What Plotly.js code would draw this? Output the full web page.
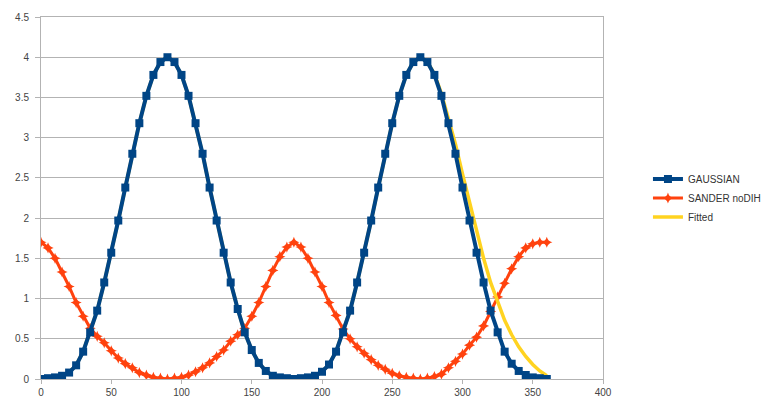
<!DOCTYPE html>
<html>
<head>
<meta charset="utf-8">
<script src="https://cdn.plot.ly/plotly-3.0.1.min.js"></script>
<style>html,body{margin:0;padding:0;background:#fff;}#chart{width:783px;height:400px;}</style>
</head>
<body>
<div id="chart"></div>
<script>
// Angle (x) values, every 5 units from 0 to 360
const angles = [0,5,10,15,20,25,30,35,40,45,50,55,60,65,70,75,80,85,90,95,100,105,110,115,120,125,130,135,140,145,150,155,160,165,170,175,180,185,190,195,200,205,210,215,220,225,230,235,240,245,250,255,260,265,270,275,280,285,290,295,300,305,310,315,320,325,330,335,340,345,350,355,360];

const gaussian = [0,0.01,0.02,0.04,0.08,0.17,0.34,0.58,0.85,1.2,1.57,1.97,2.38,2.8,3.18,3.52,3.78,3.94,4.0,3.94,3.78,3.52,3.18,2.8,2.38,1.97,1.57,1.2,0.87,0.58,0.36,0.2,0.1,0.04,0.02,0.01,0,0.01,0.02,0.04,0.09,0.18,0.34,0.58,0.85,1.2,1.57,1.97,2.38,2.8,3.18,3.52,3.78,3.94,4.0,3.94,3.78,3.52,3.18,2.8,2.38,1.97,1.57,1.2,0.85,0.58,0.34,0.19,0.1,0.05,0.02,0.01,0];

const sander = [1.7,1.63,1.5,1.33,1.15,0.95,0.78,0.63,0.53,0.45,0.35,0.26,0.19,0.14,0.08,0.05,0.02,0.01,0,0.01,0.02,0.05,0.09,0.14,0.2,0.28,0.36,0.47,0.55,0.63,0.78,0.95,1.15,1.35,1.52,1.64,1.7,1.64,1.5,1.33,1.15,0.95,0.79,0.62,0.5,0.4,0.32,0.24,0.17,0.12,0.07,0.04,0.02,0.01,0,0.01,0.03,0.06,0.14,0.22,0.31,0.42,0.52,0.66,0.84,1.02,1.19,1.37,1.52,1.63,1.68,1.7,1.7];

const fitted = [0,0.01,0.02,0.04,0.08,0.17,0.34,0.58,0.85,1.2,1.57,1.97,2.38,2.8,3.18,3.52,3.78,3.94,4.0,3.94,3.78,3.52,3.18,2.8,2.38,1.97,1.57,1.2,0.87,0.58,0.36,0.2,0.1,0.04,0.02,0.01,0,0.01,0.02,0.04,0.09,0.18,0.34,0.58,0.85,1.2,1.57,1.97,2.38,2.8,3.18,3.52,3.78,3.94,4.0,3.94,3.79,3.55,3.25,2.92,2.55,2.2,1.85,1.5,1.2,0.95,0.73,0.55,0.4,0.28,0.18,0.1,0.04];

const seriesNames = ["GAUSSIAN", "SANDER noDIH", "Fitted"];
const xTicks = [0,50,100,150,200,250,300,350,400];
const yTicks = [0,0.5,1,1.5,2,2.5,3,3.5,4,4.5];

const traces = [
  {x: angles, y: sander, name: seriesNames[1], type: 'scatter', mode: 'lines+markers',
   line: {color: '#ff420e', width: 3},
   marker: {symbol: 'star-diamond', size: 8, color: '#ff420e'}, legendrank: 2},
  {x: angles, y: fitted, name: seriesNames[2], type: 'scatter', mode: 'lines',
   line: {color: '#ffd320', width: 3.5}, legendrank: 3},
  {x: angles, y: gaussian, name: seriesNames[0], type: 'scatter', mode: 'lines+markers',
   line: {color: '#004586', width: 4},
   marker: {symbol: 'square', size: 8, color: '#004586'}, legendrank: 1}
];

const layout = {
  width: 783, height: 400,
  margin: {l: 41, r: 180, t: 17, b: 21},
  paper_bgcolor: '#ffffff', plot_bgcolor: '#ffffff',
  font: {family: 'Liberation Sans, Arial, sans-serif', size: 10, color: '#444444'},
  showlegend: true,
  legend: {x: 1.08, xanchor: 'left', y: 0.5, yanchor: 'middle',
           font: {family: 'Liberation Sans, Arial, sans-serif', size: 10, color: '#333333'},
           bgcolor: 'rgba(0,0,0,0)', tracegroupgap: 0},
  xaxis: {range: [0, 400], tickvals: xTicks, showgrid: false, zeroline: false,
          showline: true, linecolor: '#b3b3b3', linewidth: 1, mirror: true,
          ticks: 'outside', ticklen: 4, tickcolor: '#b3b3b3'},
  yaxis: {range: [0, 4.5], tickvals: yTicks, showgrid: true, gridcolor: '#b3b3b3', gridwidth: 1,
          zeroline: false, showline: true, linecolor: '#b3b3b3', linewidth: 1, mirror: true,
          ticks: 'outside', ticklen: 5, tickcolor: '#b3b3b3', ticklabelstandoff: 4}
};

Plotly.newPlot('chart', traces, layout, {displayModeBar: false, staticPlot: true});
</script>
</body>
</html>
